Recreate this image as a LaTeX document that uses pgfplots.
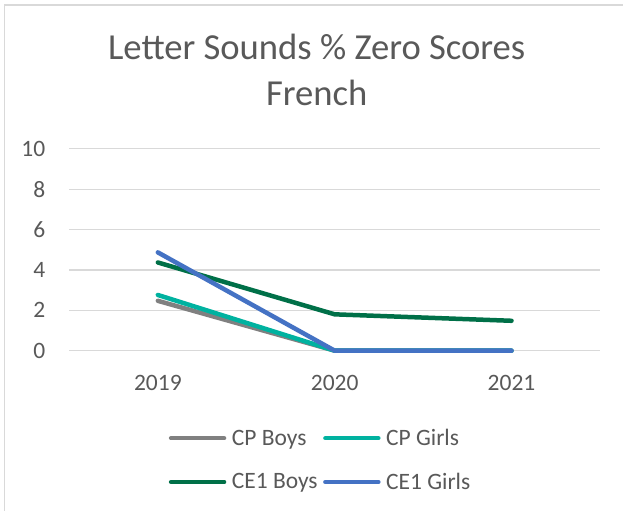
\documentclass[border=0pt]{standalone}
\usepackage{pgfplots}
\pgfplotsset{compat=1.18}
\usepackage{fontspec}
\setmainfont{Carlito}
\definecolor{txt}{RGB}{89,89,89}
\definecolor{grid}{RGB}{217,217,217}
\definecolor{cpboys}{RGB}{128,128,128}
\definecolor{cpgirls}{RGB}{0,178,160}
\definecolor{ceboys}{RGB}{0,112,72}
\definecolor{cegirls}{RGB}{68,114,196}
\begin{document}
\begin{tikzpicture}[x=1bp,y=1bp]
\path[fill=white] (0,0) rectangle (624,511);
\draw[grid, line width=1.2bp] (4.5,0) -- (4.5,506) -- (624,506);
\node[anchor=base, text=txt, font=\fontsize{36.8}{44}\selectfont, inner sep=0pt] at (317,451.7) {Letter Sounds \% Zero Scores};
\node[anchor=base, text=txt, font=\fontsize{36.8}{44}\selectfont, inner sep=0pt] at (317,405) {French};
\begin{axis}[
  at={(69.5bp,160bp)}, anchor=south west,
  scale only axis, width=531bp, height=202bp,
  xmin=-0.5, xmax=2.5, ymin=0, ymax=10,
  xtick={0,1,2}, xticklabels={2019,2020,2021},
  ytick={0,2,4,6,8,10},
  axis line style={draw=none},
  major tick length=0pt,
  tick style={draw=none},
  xmajorgrids=false,
  ymajorgrids=true,
  y grid style={grid, line width=1.2bp},
  tick label style={text=txt, font=\fontsize{23.6}{28}\selectfont, inner sep=0pt},
  /pgf/number format/assume math mode=true,
  yticklabel style={xshift=-24bp},
  xticklabel style={yshift=-24bp},
  clip=false,
  legend columns=2,
  legend cell align=left,
  legend image code/.code={\draw[#1] (0bp,0bp) -- (53bp,0bp);},
  legend style={at={(0.472,-0.5425)}, anchor=center, draw=none, fill=none,
    font=\fontsize{23.6}{28}\selectfont, text=txt,
    nodes={inner sep=0.5bp},
    /tikz/every even column/.append style={column sep=5bp},
    /tikz/every odd column/.append style={column sep=5bp},
    row sep=25bp, inner sep=0pt},
  every axis plot/.append style={line width=4.5bp, line cap=round, line join=round},
]
\addplot[cpboys] coordinates {(0,2.47) (1,0) (2,0)};
\addlegendentry{CP Boys}
\addplot[cpgirls] coordinates {(0,2.76) (1,0) (2,0)};
\addlegendentry{CP Girls}
\addplot[ceboys] coordinates {(0,4.37) (1,1.8) (2,1.48)};
\addlegendentry{CE1 Boys}
\addplot[cegirls] coordinates {(0,4.87) (1,0) (2,0)};
\addlegendentry{CE1 Girls}
\end{axis}
\end{tikzpicture}
\end{document}
